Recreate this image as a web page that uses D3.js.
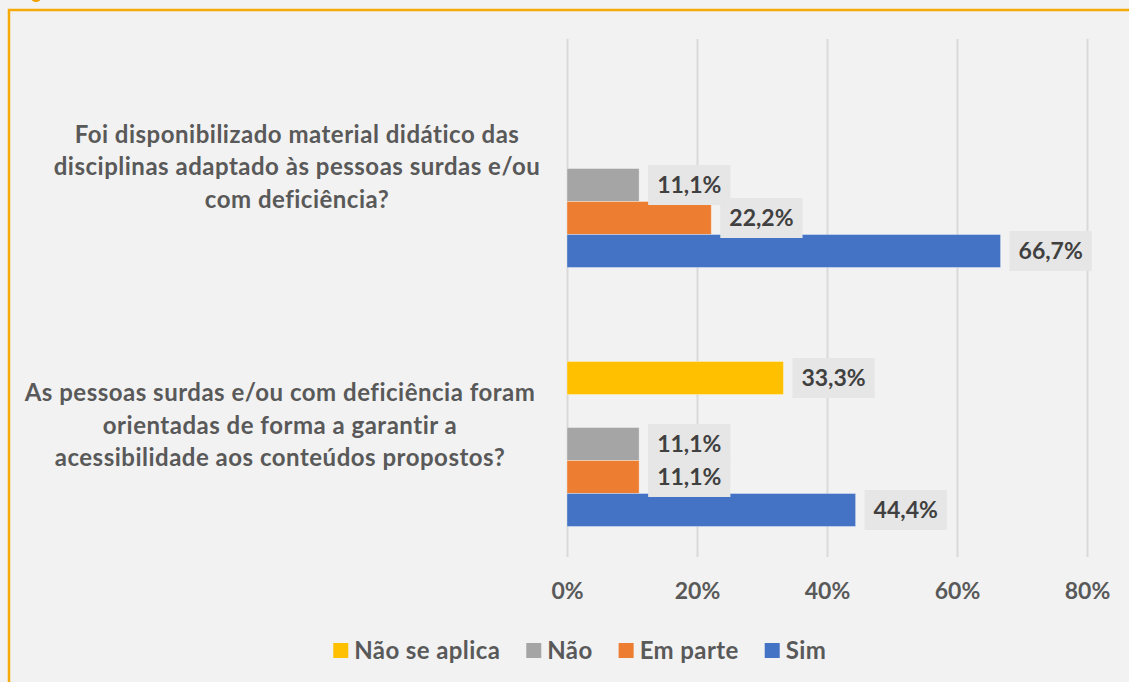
<!DOCTYPE html>
<html>
<head>
<meta charset="utf-8">
<script src="https://cdn.jsdelivr.net/npm/d3@7"></script>
<style>
  html, body { margin: 0; padding: 0; background: #f2f2f2; }
  svg { display: block; font-family: Lato, 'Open Sans', sans-serif; font-weight: bold; }
</style>
</head>
<body>
<svg id="chart" width="1129" height="682"></svg>
<script>
// Barras horizontais agrupadas - acessibilidade para pessoas surdas e/ou com deficiência

const categories = [
  'Foi disponibilizado material didático das\ndisciplinas adaptado às pessoas surdas e/ou\ncom deficiência?',
  'As pessoas surdas e/ou com deficiência foram\norientadas de forma a garantir a\nacessibilidade aos conteúdos propostos?'
];

const seriesNames = ['Não se aplica', 'Não', 'Em parte', 'Sim'];
const seriesColors = ['#ffc000', '#a5a5a5', '#ed7d31', '#4472c4'];

const naoSeAplica = [null, 0.333];
const nao = [0.111, 0.111];
const emParte = [0.222, 0.111];
const sim = [0.667, 0.444];

const xTicks = [0, 0.2, 0.4, 0.6, 0.8];

const seriesValues = [naoSeAplica, nao, emParte, sim];

// posição de cada série dentro do grupo (6 faixas, duas vazias)
const slotOf = [1, 3, 4, 5];
const labelCenterX = [297, 280];

const ptBR = d3.formatLocale({ decimal: ',', thousands: '.', grouping: [3], currency: ['R$', ''] });
const fmtLabel = ptBR.format('.1%');
const fmtTick = ptBR.format('.0%');

const svg = d3.select('#chart');

const plot = { left: 567, right: 1087, top: 39, bottom: 557 };

const xScale = d3.scaleLinear()
  .domain([0, 0.8])
  .range([plot.left, plot.right]);

const yScale = d3.scaleBand()
  .domain(d3.range(categories.length))
  .range([plot.top, plot.bottom])
  .paddingInner(0.2355)
  .paddingOuter(0.1178);

const ySlot = d3.scaleBand()
  .domain(d3.range(6))
  .range([0, yScale.bandwidth()]);

// moldura laranja
svg.append('rect')
  .attr('x', 9)
  .attr('y', 10)
  .attr('width', 1300)
  .attr('height', 1000)
  .attr('fill', 'none')
  .attr('stroke', '#f5aa0a')
  .attr('stroke-width', 2.5);

svg.append('ellipse')
  .attr('cx', 36)
  .attr('cy', -2)
  .attr('rx', 5)
  .attr('ry', 4)
  .attr('fill', '#f0a000');

// linhas de grade
const grid = svg.append('g')
  .attr('transform', `translate(0,${plot.bottom})`)
  .call(d3.axisBottom(xScale).tickValues(xTicks).tickSize(-(plot.bottom - plot.top)).tickFormat(''));
grid.select('.domain').remove();
grid.selectAll('line').attr('stroke', '#d9d9d9').attr('stroke-width', 2);

// eixo x
const xAxis = svg.append('g')
  .attr('transform', `translate(0,${plot.bottom})`)
  .call(d3.axisBottom(xScale).tickValues(xTicks).tickSize(0).tickPadding(26).tickFormat(fmtTick));
xAxis.select('.domain').remove();
xAxis.selectAll('text')
  .attr('fill', '#595959')
  .style('font-family', 'Lato, sans-serif')
  .style('font-weight', 'bold')
  .style('font-size', '23px');

// rótulos das categorias
categories.forEach((cat, i) => {
  const lines = cat.split('\n');
  const cy = yScale(i) + yScale.bandwidth() / 2;
  const lh = 32.5;
  const t = svg.append('text')
    .attr('text-anchor', 'middle')
    .attr('fill', '#595959')
    .attr('font-size', '24px')
    .attr('letter-spacing', '0.5px');
  lines.forEach((line, j) => {
    t.append('tspan')
      .attr('x', labelCenterX[i])
      .attr('y', cy + 6.5 + (j - (lines.length - 1) / 2) * lh)
      .text(line);
  });
});

// barras
const rows = [];
seriesValues.forEach((vals, s) => {
  vals.forEach((v, c) => {
    if (v !== null) rows.push({ s, c, v });
  });
});

svg.append('g')
  .selectAll('rect')
  .data(rows)
  .enter()
  .append('rect')
  .attr('x', xScale(0))
  .attr('y', d => yScale(d.c) + ySlot(slotOf[d.s]))
  .attr('width', d => xScale(d.v) - xScale(0))
  .attr('height', ySlot.bandwidth())
  .attr('fill', d => seriesColors[d.s])
  .attr('stroke', '#ffffff')
  .attr('stroke-opacity', 0.35)
  .attr('stroke-width', 1);

// rótulos de dados
const labels = svg.append('g');
rows.forEach(d => {
  const cy = yScale(d.c) + ySlot(slotOf[d.s]) + ySlot.bandwidth() / 2;
  const bx = xScale(d.v) + 9;
  const g = labels.append('g');
  const box = g.append('rect');
  const txt = g.append('text')
    .attr('x', bx + 9)
    .attr('y', cy + 8)
    .attr('fill', '#404040')
    .attr('font-size', '23px')
    .text(fmtLabel(d.v));
  const w = txt.node().getComputedTextLength();
  box.attr('x', bx)
    .attr('y', cy - 20)
    .attr('width', w + 18)
    .attr('height', 40)
    .attr('fill', '#e6e6e6');
});

// legenda
const legend = svg.append('g');
let lx = 0;
seriesNames.forEach((name, i) => {
  const item = legend.append('g').attr('transform', `translate(${lx},0)`);
  item.append('rect')
    .attr('x', 0)
    .attr('y', 643)
    .attr('width', 15)
    .attr('height', 15)
    .attr('fill', seriesColors[i]);
  const t = item.append('text')
    .attr('x', 21)
    .attr('y', 658.5)
    .attr('fill', '#595959')
    .attr('font-size', '24px')
    .attr('letter-spacing', '0.4px')
    .text(name);
  lx += 21 + t.node().getComputedTextLength() + 26;
});
const legendWidth = lx - 26;
legend.attr('transform', `translate(${579.75 - legendWidth / 2},0)`);
</script>
</body>
</html>
